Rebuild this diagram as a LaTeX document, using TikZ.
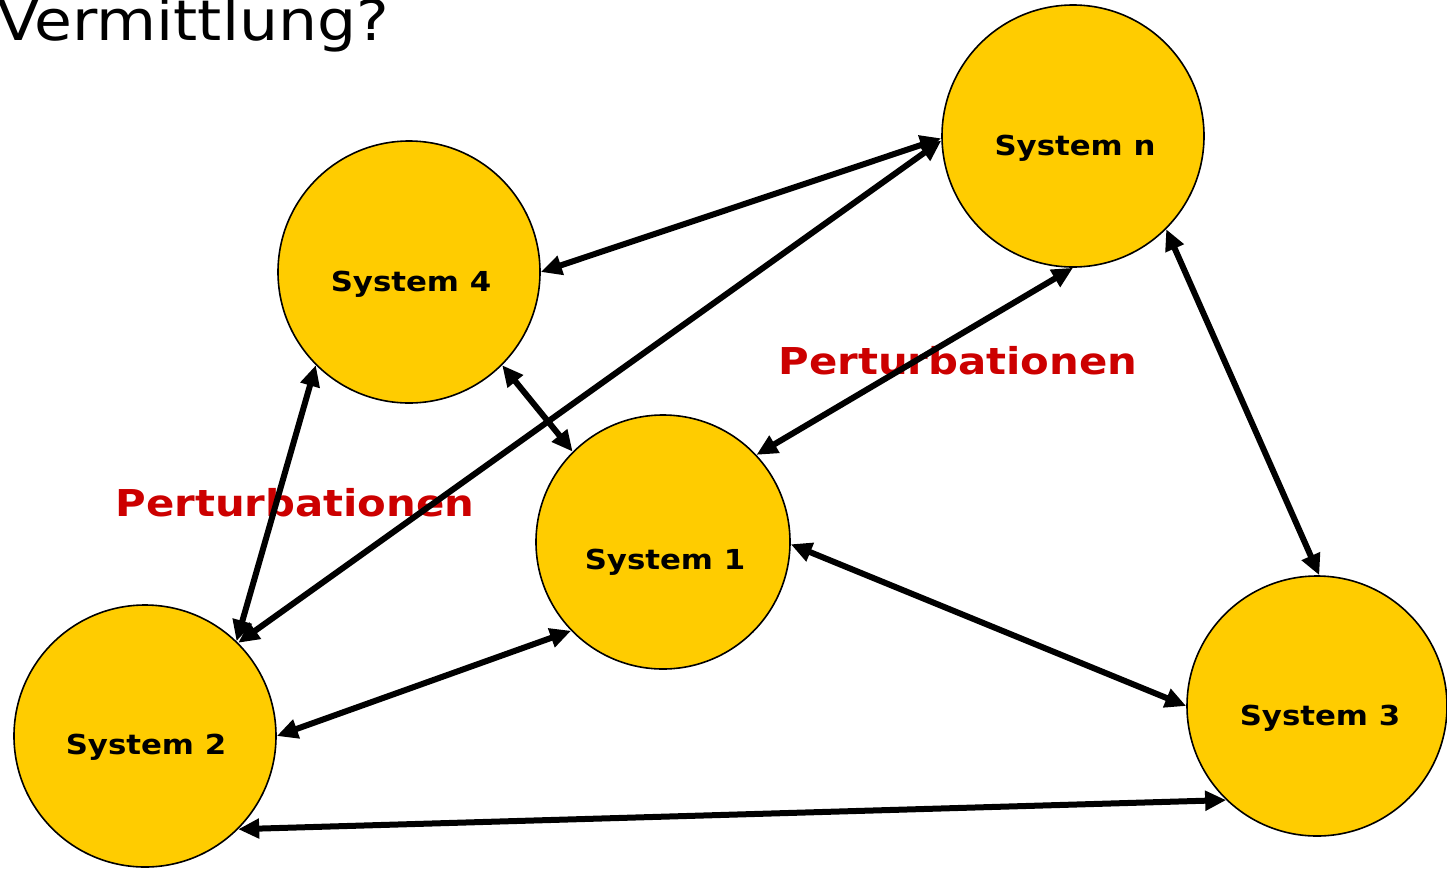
\documentclass[tikz,border=0pt]{standalone}
\usepackage{fontspec}
\setmainfont{DejaVu Sans}
\usepackage{graphicx}
\usetikzlibrary{arrows.meta}
\definecolor{sysyellow}{RGB}{255,204,0}
\definecolor{pertred}{RGB}{204,0,0}
\begin{document}
\begin{tikzpicture}[x=1pt,y=-1pt,
  sysnode/.style={circle,draw=black,line width=1.6pt,fill=sysyellow,inner sep=0pt,minimum size=#1},
  syslabel/.style={font=\fontsize{27.5}{30}\selectfont\bfseries,inner sep=0pt,anchor=base},
  pert/.style={text=pertred,font=\fontsize{37}{40}\selectfont\bfseries,inner sep=0pt,anchor=base},
  link/.style={line width=6pt,{Triangle[length=21pt,width=19pt]}-{Triangle[length=21pt,width=19pt]}}]
\useasboundingbox (0,0) rectangle (1447,868);

% title
\node[anchor=base west,inner sep=0pt,font=\fontsize{56}{60}\selectfont] (title) at (-3,40) {\scalebox{1.1}[1]{Vermittlung?}};

% systems
\node[sysnode=262pt] (sn) at (1073,136) {};
\node[sysnode=262pt] (s4) at (409,272) {};
\node[sysnode=254pt] (s1) at (663,542) {};
\node[sysnode=262pt] (s2) at (145,736) {};
\node[sysnode=260pt] (s3) at (1317,706) {};

\node[syslabel] (ln) at (1075,155) {\scalebox{1.12}[1]{System n}};
\node[syslabel] (l4) at (411,291) {\scalebox{1.12}[1]{System 4}};
\node[syslabel] (l1) at (665,569) {\scalebox{1.12}[1]{System 1}};
\node[syslabel] (l2) at (146,754) {\scalebox{1.12}[1]{System 2}};
\node[syslabel] (l3) at (1320,725) {\scalebox{1.12}[1]{System 3}};

% red labels
\node[pert] (p1) at (958,374) {\scalebox{1.13}[1]{Perturbationen}};
\node[pert] (p2) at (295,516) {\scalebox{1.13}[1]{Perturbationen}};

% connectors
\draw[link] (s4.0) -- (sn.181.3);
\draw[link] (s2.45.6) -- (sn.182);
\draw[link] (s4.-45) -- (s1.135);
\draw[link] (s1.43.8) -- (sn.-90);
\draw[link] (sn.-45.3) -- (s3.89.5);
\draw[link] (s2.46) -- (s4.225.3);
\draw[link] (s2.0) -- (s1.224.7);
\draw[link] (s1.-1) -- (s3.180.4);
\draw[link] (s2.-45) -- (s3.226);
\end{tikzpicture}
\end{document}
